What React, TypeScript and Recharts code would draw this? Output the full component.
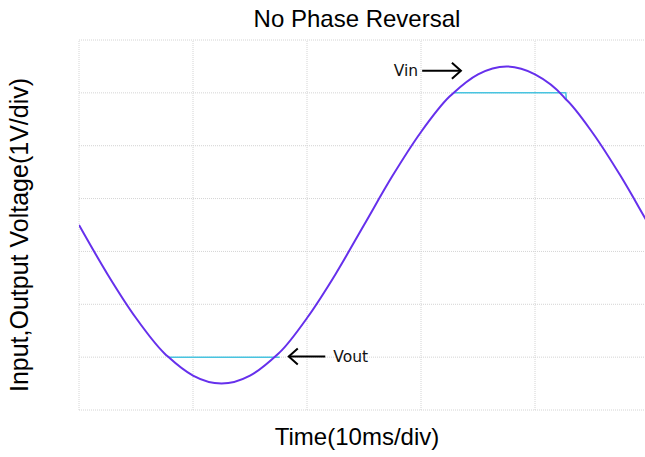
import React from "react";
import {
  LineChart,
  Line,
  XAxis,
  YAxis,
  CartesianGrid,
  ReferenceLine,
} from "recharts";

// time in ms, voltages in V
const timeMs = [0, 2.5, 5, 7.5, 7.8, 10, 12.5, 15, 17.5, 17.6, 20, 22.5, 25, 27.5, 30, 32.5, 32.8, 35, 37.5, 40, 42.5, 42.7, 42.75, 45, 47.5, 50, 52.5];
const vin = [0, -0.93, -1.76, -2.43, -2.49, -2.85, -3.0, -2.85, -2.43, -2.41, -1.76, -0.93, 0, 0.93, 1.76, 2.43, 2.49, 2.85, 3.0, 2.85, 2.43, 2.38, 2.37, 1.76, 0.93, 0, -0.93];
// output only departs from the input where it clips at +/-2.5 V
const vout = [null, null, null, null, -2.5, -2.5, -2.5, -2.5, -2.5, -2.5, null, null, null, null, null, null, 2.5, 2.5, 2.5, 2.5, 2.5, 2.5, 2.37, null, null, null, null];

const xTicks = [0, 10, 20, 30, 40];
const yTicks = [-3.5, -2.5, -1.5, -0.5, 0.5, 1.5, 2.5, 3.5];

const data = timeMs.map((t, i) => ({ t, vin: vin[i], vout: vout[i] }));

const FONT = "'Liberation Sans', Arial, sans-serif";
const GRID = "#d4d4d4";

const noTick = () => <g />;

const arrowShape = (label: string, side: "left" | "right") => (p: any) => {
  const { x1, y1, x2, y2 } = p;
  const dir = x2 > x1 ? 1 : -1;
  const textX = side === "left" ? x1 - 4 : x1 + 8;
  return (
    <g>
      <line x1={x1} y1={y1} x2={x2} y2={y2} stroke="#000" strokeWidth={2} />
      <polyline
        points={`${x2 - dir * 9},${y2 - 8} ${x2},${y2} ${x2 - dir * 9},${y2 + 8}`}
        fill="none"
        stroke="#000"
        strokeWidth={2}
      />
      <text
        x={textX}
        y={y1 + 5}
        textAnchor={side === "left" ? "end" : "start"}
        fontFamily="'DejaVu Sans', sans-serif"
        fontSize={15.5}
        fill="#111"
      >
        {label}
      </text>
    </g>
  );
};

export default function App() {
  return (
    <div style={{ position: "relative", width: 645, height: 457, overflow: "hidden", background: "#fff" }}>
      <style>{`html,body{margin:0;padding:0;overflow:hidden;}`}</style>
      {/* plot runs past the right edge, as in the scope capture */}
      <LineChart width={670} height={457} data={data} margin={{ top: 40, right: 0, bottom: 47, left: 79 }}>
        <CartesianGrid stroke={GRID} strokeDasharray="1 1" vertical={false} />
        <XAxis
          type="number"
          dataKey="t"
          domain={[0, 51.84]}
          allowDataOverflow
          ticks={xTicks}
          tick={noTick}
          tickLine={false}
          axisLine={false}
          height={0}
        />
        <YAxis
          type="number"
          domain={[-3.5, 3.5]}
          ticks={yTicks}
          tick={noTick}
          tickLine={false}
          axisLine={false}
          width={0}
        />
        {xTicks.map((t) => (
          <ReferenceLine key={t} x={t} stroke={GRID} strokeDasharray="1 1" />
        ))}
        <Line type="linear" dataKey="vout" stroke="#48c4e0" strokeWidth={1.5} dot={false} isAnimationActive={false} />
        <Line type="monotone" dataKey="vin" stroke="#6630ec" strokeWidth={2} dot={false} isAnimationActive={false} />
        <ReferenceLine
          segment={[{ x: 30.1, y: 2.92 }, { x: 33.5, y: 2.92 }]}
          shape={arrowShape("Vin", "left")}
        />
        <ReferenceLine
          segment={[{ x: 21.6, y: -2.49 }, { x: 18.4, y: -2.49 }]}
          shape={arrowShape("Vout", "right")}
        />
      </LineChart>
      <svg width={645} height={457} style={{ position: "absolute", left: 0, top: 0, pointerEvents: "none" }}>
        <text x={357} y={27} textAnchor="middle" fontFamily={FONT} fontSize={24} fill="#000">
          No Phase Reversal
        </text>
        <text x={357} y={445} textAnchor="middle" fontFamily={FONT} fontSize={24} fill="#000">
          Time(10ms/div)
        </text>
        <text
          x={28}
          y={235}
          textAnchor="middle"
          fontFamily={FONT}
          fontSize={25}
          fill="#000"
          transform="rotate(-90, 28, 235)"
        >
          Input,Output Voltage(1V/div)
        </text>
      </svg>
    </div>
  );
}
